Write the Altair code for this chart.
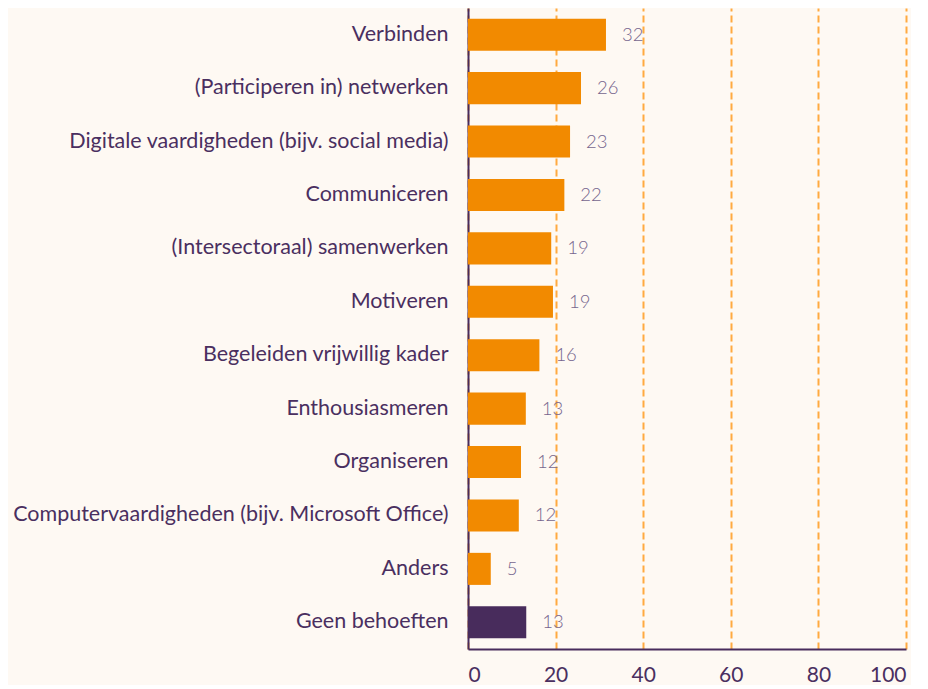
import altair as alt
import pandas as pd

categories = [
    "Verbinden",
    "(Participeren in) netwerken",
    "Digitale vaardigheden (bijv. social media)",
    "Communiceren",
    "(Intersectoraal) samenwerken",
    "Motiveren",
    "Begeleiden vrijwillig kader",
    "Enthousiasmeren",
    "Organiseren",
    "Computervaardigheden (bijv. Microsoft Office)",
    "Anders",
    "Geen behoeften",
]
values = [31.5, 25.8, 23.3, 22.0, 19.0, 19.4, 16.3, 13.2, 12.1, 11.6, 5.2, 13.3]
labels = ["32", "26", "23", "22", "19", "19", "16", "13", "12", "12", "5", "13"]
groups = ["a"] * 11 + ["b"]

df = pd.DataFrame({"cat": categories, "val": values, "lab": labels, "grp": groups})

purple = "#482c5c"
orange = "#f28a00"
text_col = "#4a2f60"

y = alt.Y("cat:N", sort=categories, title=None,
          scale=alt.Scale(paddingInner=0.4, paddingOuter=0.2),
          axis=alt.Axis(labelFont="Lato", labelFontSize=21.5, labelColor=text_col,
                        labelPadding=20, ticks=False, domainColor=purple,
                        domainWidth=2, labelLimit=600))

bars = alt.Chart(df).mark_bar().encode(
    x=alt.X("val:Q", title=None, scale=alt.Scale(domain=[0, 100]),
            axis=alt.Axis(values=[0, 20, 40, 60, 80, 100], labelFont="Lato",
                          labelFontSize=21, labelColor=text_col, ticks=False,
                          labelPadding=15, domainColor=purple, domainWidth=2,
                          grid=True, gridColor="#ffaa40", gridDash=[7, 4],
                          gridWidth=2)),
    y=y,
    color=alt.Color("grp:N", scale=alt.Scale(domain=["a", "b"], range=[orange, purple]),
                    legend=None),
)

text = alt.Chart(df).mark_text(align="left", dx=16, font="Lato", fontSize=18.5,
                               fontWeight=300, color="#76668e").encode(
    x="val:Q", y=alt.Y("cat:N", sort=categories), text="lab:N")

chart = (bars + text).properties(
    width=438, height=641, background="#fef9f3",
    padding={"left": 4, "top": 0, "right": 5, "bottom": 0},
).configure_view(stroke=None)

chart.save("out.html", embed_options={"renderer": "svg", "actions": False})
